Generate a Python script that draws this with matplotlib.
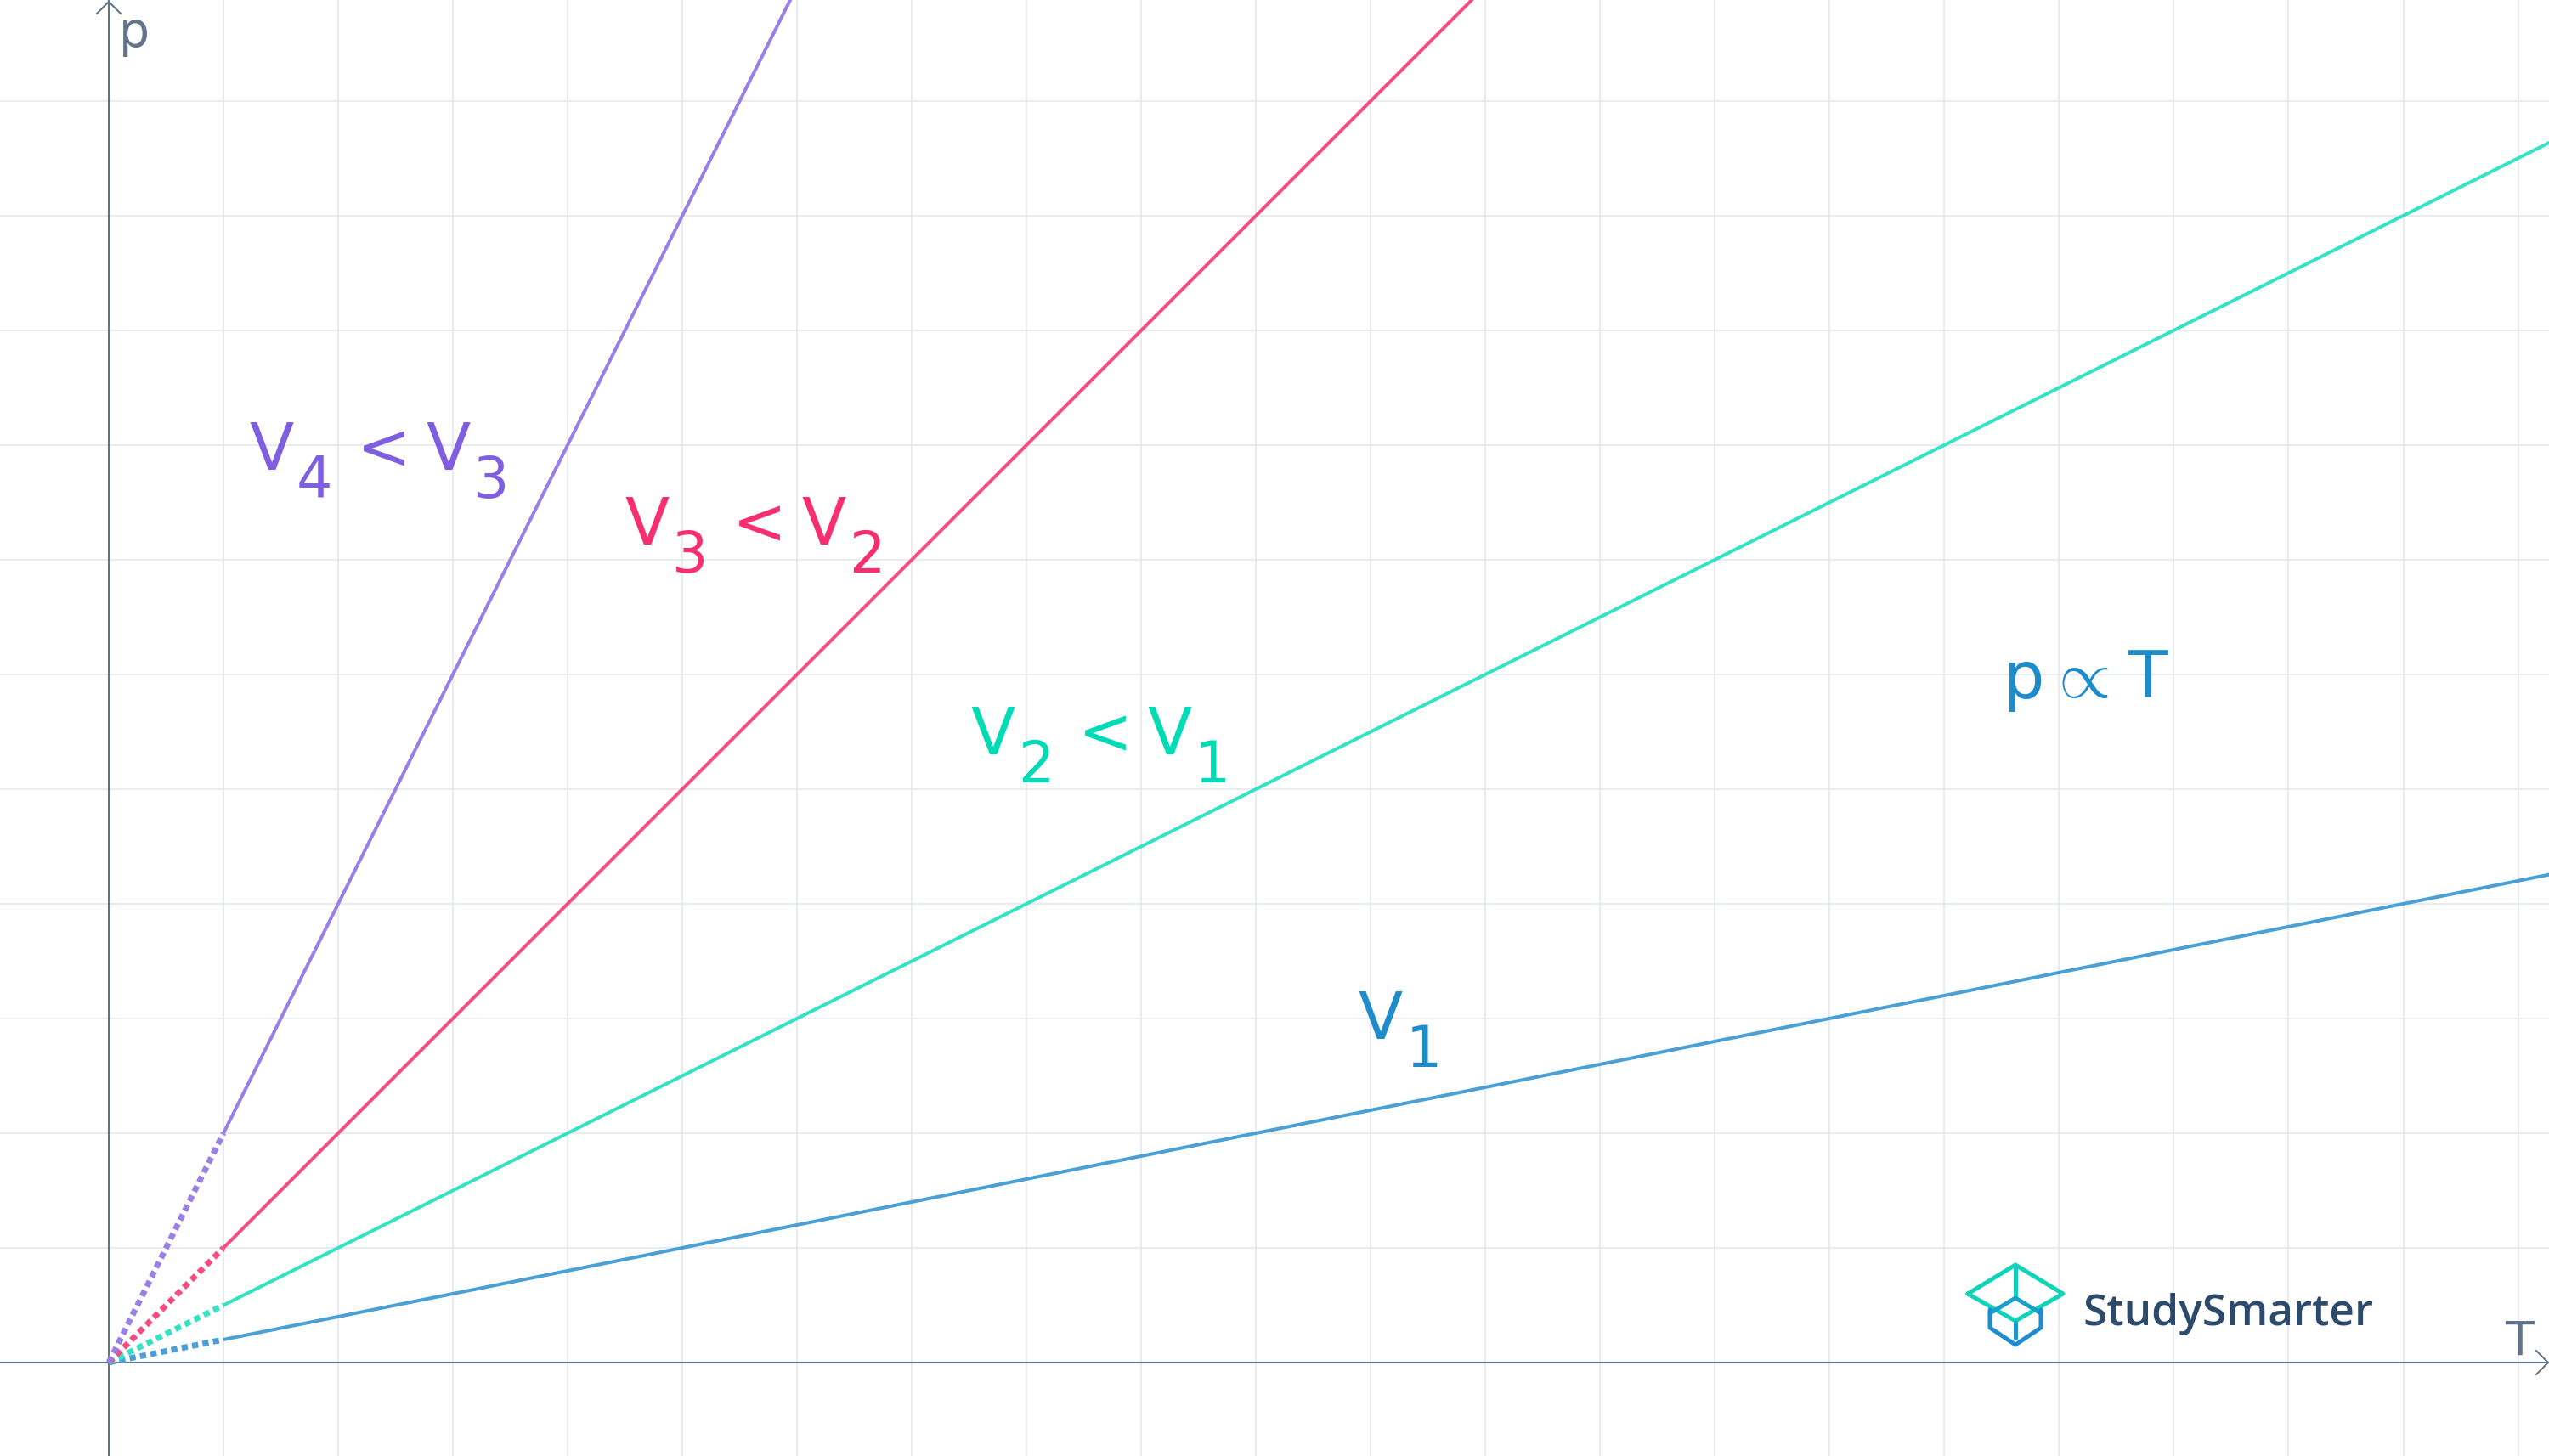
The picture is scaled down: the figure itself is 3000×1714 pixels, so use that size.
import matplotlib
matplotlib.use("Agg")
import matplotlib.pyplot as plt
import matplotlib.transforms as mtransforms
import numpy as np

# isochoric lines p = k*T, one per volume (V1 > V2 > V3 > V4)
slopes = [0.2, 0.5, 1.0, 2.0]
line_colors = ["#4aa0d6", "#36e2c3", "#f64d81", "#9a7fe4"]
text_colors = ["#1e8bcb", "#00dbb5", "#f72f70", "#7f5fe0"]
T_dotted = np.array([0.0, 1.0])      # extrapolated part towards 0 K
T_solid = np.array([1.0, 22.0])      # measured part

# labels: (smaller volume subscript, larger volume subscript)
compare_subs = [("2", "1"), ("3", "2"), ("4", "3")]
compare_pos = [(7.511, 5.304), (4.496, 7.133), (1.222, 7.785)]   # V2<V1, V3<V2, V4<V3
v1_sub = "1"
v1_pos = (10.889, 2.822)
law_parts = ["p", r"$\propto$", "T"]
law_pos = (16.511, 5.793)

axis_col = "#627489"
grid_col = "#e4e7ec"

W, H = 3000, 1714
fig = plt.figure(figsize=(W / 100, H / 100), dpi=100)
ax = fig.add_axes([0, 0, 1, 1])
ax.set_xlim(-0.948, 21.27)
ax.set_ylim(-0.815, 11.88)
ax.axis("off")

# grid
for gx in range(1, 22):
    ax.axvline(gx, color=grid_col, lw=1.2, zorder=0)
for gy in range(1, 12):
    ax.axhline(gy, color=grid_col, lw=1.2, zorder=0)

# axes through the origin
ax.axhline(0, color=axis_col, lw=1.5, zorder=1)
ax.axvline(0, color=axis_col, lw=1.5, zorder=1)


def px(x, y):
    # full-size pixel position (from top-left) -> figure fraction
    return x / W, 1 - y / H


def shifted(dx, dy=0):
    return mtransforms.offset_copy(ax.transData, fig=fig, x=dx, y=dy, units="dots")


# arrow heads
for pts in ([(114, 16), (128, 2), (142, 16)], [(2985, 1590), (2999, 1604), (2985, 1618)]):
    xs, ys = zip(*[px(*p) for p in pts])
    fig.add_artist(plt.Line2D(xs, ys, transform=fig.transFigure, color=axis_col, lw=1.5))

fig.text(*px(140, 55), "p", color=axis_col, fontsize=41, va="baseline", ha="left")
fig.text(*px(2948, 1595), "T", color=axis_col, fontsize=40, va="baseline", ha="left")

# lines
for k, c in zip(slopes, line_colors):
    ax.plot(T_solid, k * T_solid, color=c, lw=2.9, solid_capstyle="butt", zorder=3)
    ax.plot(T_dotted, k * T_dotted, color=c, lw=5.0, dashes=(1.05, 0.75),
            dash_capstyle="butt", zorder=3)


def vtext(x, y, dx, sub, color):
    ax.text(x, y, "V", color=color, fontsize=55, va="baseline", ha="left",
            transform=shifted(dx))
    ax.text(x, y, sub, color=color, fontsize=48, va="baseline", ha="left",
            transform=shifted(dx + 56, -33))


for (s_small, s_big), (x, y), c in zip(compare_subs, compare_pos, text_colors[1:]):
    vtext(x, y, 0, s_small, c)
    ax.text(x, y, "<", color=c, fontsize=55, va="baseline", ha="left",
            transform=shifted(127))
    vtext(x, y, 208, s_big, c)

vtext(v1_pos[0], v1_pos[1], 0, v1_sub, text_colors[0])

# p ∝ T
plt.rcParams["mathtext.fontset"] = "cm"
ax.text(*law_pos, law_parts[0], color=text_colors[0], fontsize=55,
        va="baseline", ha="left")
ax.text(*law_pos, law_parts[1], color=text_colors[0], fontsize=57,
        va="baseline", ha="left", transform=shifted(52, 1))
ax.text(*law_pos, law_parts[2], color=text_colors[0], fontsize=55,
        va="baseline", ha="left", transform=shifted(147))

# logo
logo_parts = [
    ([(2316, 1523), (2372, 1489), (2428, 1523), (2372, 1555), (2316, 1523)], "#0fd4b8"),
    ([(2372, 1491), (2372, 1526)], "#10cdb9"),
    ([(2342, 1546), (2372, 1528), (2402, 1546)], "#1a9fcb"),
    ([(2342, 1542), (2342, 1563), (2372, 1583), (2402, 1563), (2402, 1542)], "#1f8bd0"),
    ([(2372, 1557), (2372, 1575)], "#1c98cc"),
]
for pts, c in logo_parts:
    xs, ys = zip(*[px(*p) for p in pts])
    fig.add_artist(plt.Line2D(xs, ys, transform=fig.transFigure, color=c, lw=3.6,
                              solid_joinstyle="round", solid_capstyle="round"))
fig.text(*px(2451, 1560), "StudySmarter", color="#2c4a6b", fontsize=37,
         family="Open Sans", weight="semibold", va="baseline", ha="left")

fig.savefig("out.png", dpi=100)
